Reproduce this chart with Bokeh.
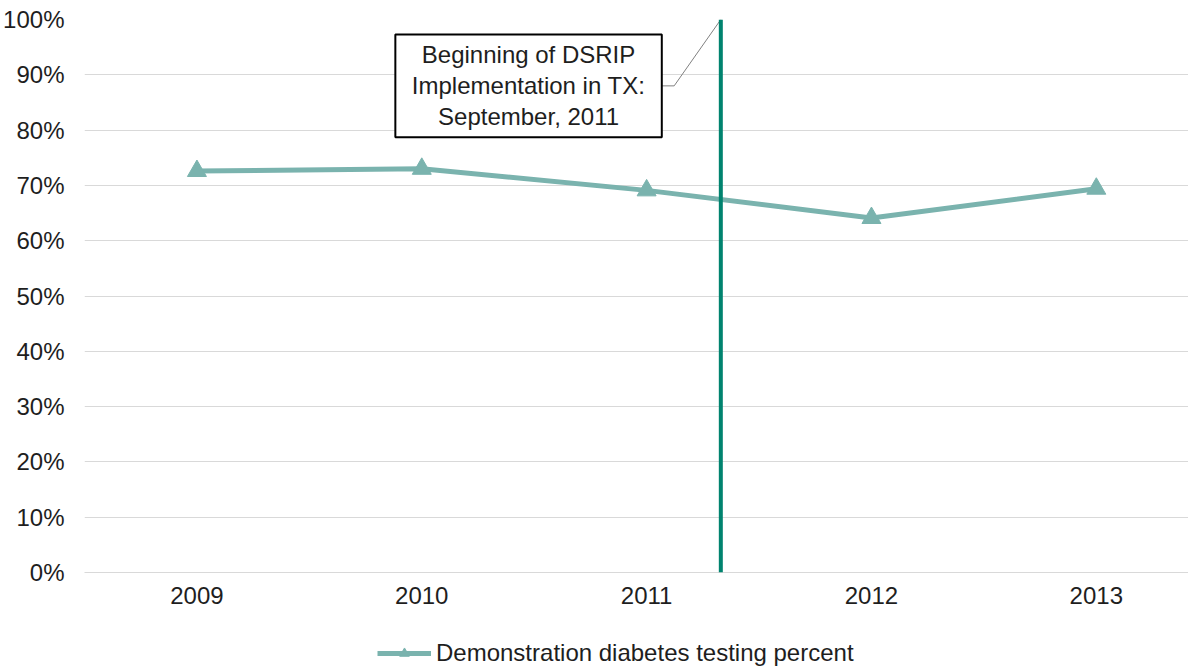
from bokeh.plotting import figure
from bokeh.layouts import column
from bokeh.models import Span, Legend, LegendItem, PrintfTickFormatter, FixedTicker, Range1d
from bokeh.core.properties import value
from bokeh.embed import file_html
from bokeh.resources import INLINE

# ---- data ----
years = [2009, 2010, 2011, 2012, 2013]
testing_pct = [72.6, 73.0, 69.1, 64.1, 69.4]
y_ticks = [0, 10, 20, 30, 40, 50, 60, 70, 80, 90, 100]
series_label = "Demonstration diabetes testing percent"
dsrip_start = 2011.33
note_lines = ["Beginning of DSRIP", "Implementation in TX:", "September, 2011"]
note_x = 2010.475
note_y = 88.0

FONT = "Liberation Sans"
TXT = "#1E1E1E"
SERIES = "#7AB3AE"
VLINE = "#00836F"
GRID = "#D9D9D9"

p = figure(width=1188, height=620, output_backend="svg", toolbar_location=None,
           x_range=Range1d(2008.5, 2013.41), y_range=Range1d(0, 100),
           min_border_left=78, min_border_right=0, min_border_top=19, min_border_bottom=48)
p.outline_line_color = None
p.background_fill_color = "white"
p.border_fill_color = "white"

# axes
p.xaxis.ticker = FixedTicker(ticks=years)
p.yaxis.ticker = FixedTicker(ticks=y_ticks)
p.yaxis.formatter = PrintfTickFormatter(format="%d%%")
for ax in (p.xaxis[0], p.yaxis[0]):
    ax.major_tick_in = 0
    ax.major_tick_out = 0
    ax.minor_tick_in = 0
    ax.minor_tick_out = 0
    ax.major_label_text_font = FONT
    ax.major_label_text_font_size = "24px"
    ax.major_label_text_color = TXT
p.yaxis.axis_line_color = None
p.xaxis.axis_line_color = GRID
p.yaxis.major_label_standoff = 20
p.xaxis.major_label_standoff = 14

p.xgrid.grid_line_color = None
p.ygrid.grid_line_color = GRID
p.ygrid.grid_line_width = 1

# DSRIP vertical line
p.add_layout(Span(location=dsrip_start, dimension="height", line_color=VLINE, line_width=4))

# callout connector
box_w = 1.185
box_h = 18.6
right_edge = note_x + box_w / 2
p.line(x=[right_edge, right_edge + 0.055, dsrip_start], y=[note_y, note_y, 100],
       line_color="#808080", line_width=1)

# callout box
p.rect(x=[note_x], y=[note_y], width=box_w, height=box_h, fill_color="white",
       line_color="black", line_width=2)
p.text(x=[note_x], y=[note_y], text=["\n".join(note_lines)], text_align="center",
       text_baseline="middle", text_font=value(FONT), text_font_size="24px",
       text_color=TXT, text_line_height=1.15)

# series
p.line(x=years, y=testing_pct, line_color=SERIES, line_width=5)
p.scatter(x=years, y=testing_pct, marker="triangle", size=19,
          fill_color=SERIES, line_color=SERIES)

# legend strip (separate figure so the legend is not clipped by the chart frame);
# its glyph renderers reuse the series data, which lies outside this strip's ranges
leg = figure(width=1188, height=48, output_backend="svg", toolbar_location=None,
             x_range=Range1d(0, 1), y_range=Range1d(0, 1),
             x_axis_type=None, y_axis_type=None, min_border=0)
leg.outline_line_color = None
leg.xgrid.grid_line_color = None
leg.ygrid.grid_line_color = None
lg_line = leg.line(x=years, y=testing_pct, line_color=SERIES, line_width=5)
lg_mark = leg.scatter(x=years, y=testing_pct, marker="triangle", size=19,
                      fill_color=SERIES, line_color=SERIES)
legend = Legend(items=[LegendItem(label=series_label, renderers=[lg_line, lg_mark], index=0)],
                location=(293, 1), orientation="horizontal",
                padding=0, margin=0, border_line_color=None, background_fill_alpha=0,
                glyph_width=54, glyph_height=24, label_height=24,
                label_standoff=5,
                label_text_font=FONT, label_text_font_size="24px", label_text_color=TXT)
leg.add_layout(legend, "center")

layout = column(p, leg, spacing=0)
open("out.html", "w").write(file_html(layout, INLINE))
